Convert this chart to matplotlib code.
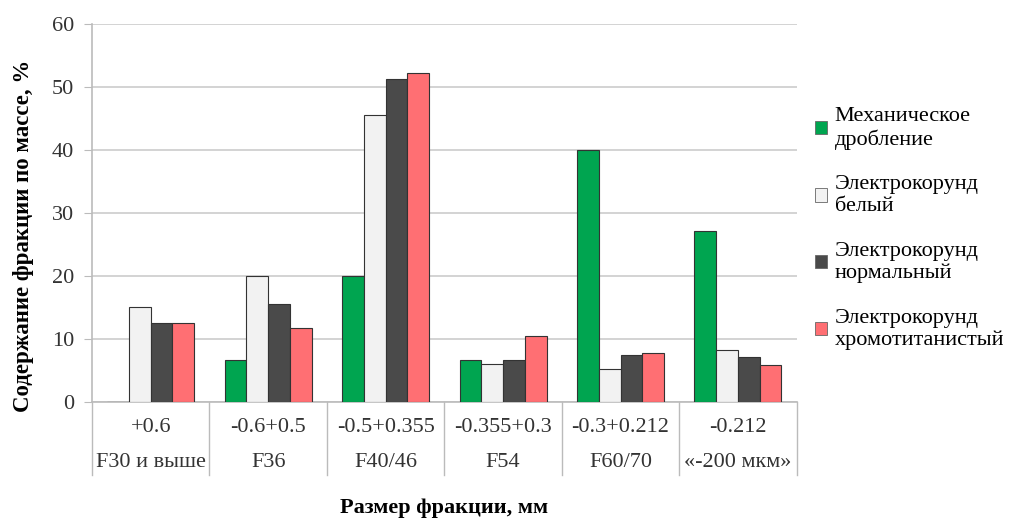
import numpy as np
import matplotlib.pyplot as plt
from matplotlib.patches import Patch

plt.rcParams['font.family'] = ['Liberation Serif', 'DejaVu Serif']

sizes = ["+0.6", "-0.6+0.5", "-0.5+0.355", "-0.355+0.3", "-0.3+0.212", "-0.212"]
grades = ["F30 и выше", "F36", "F40/46", "F54", "F60/70", "«-200 мкм»"]

series_names = ["Механическое\nдробление", "Электрокорунд\nбелый",
                "Электрокорунд\nнормальный", "Электрокорунд\nхромотитанистый"]
mech = [0, 6.7, 20.0, 6.7, 40.0, 27.1]
white = [15.1, 20.0, 45.5, 6.1, 5.2, 8.3]
normal = [12.5, 15.6, 51.3, 6.7, 7.4, 7.1]
chrome = [12.5, 11.7, 52.2, 10.5, 7.8, 5.9]
colors = ["#00A550", "#F2F2F2", "#4A4A4A", "#FF6F73"]

fs = 16

fig = plt.figure(figsize=(10.11, 5.23), dpi=100)
ax = fig.add_axes([0.091, 0.2314, 0.697, 0.723])

x = np.arange(len(sizes)) + 0.5
w = 0.185
for i, (vals, c) in enumerate(zip([mech, white, normal, chrome], colors)):
    ax.bar(x + (i - 1.5) * w, vals, w, color=c, edgecolor="#333333",
           linewidth=0.8, zorder=3)

ax.set_xlim(0, len(sizes))
ax.set_ylim(0, 60)
ax.set_yticks(range(0, 61, 10))
ax.yaxis.grid(True, color="#D0D0D0", linewidth=1.3, zorder=0)
ax.set_xticks([])
ax.tick_params(axis="y", labelsize=fs, length=6, color="#BBBBBB", pad=7,
               labelcolor="#333333")
for s in ["top", "right"]:
    ax.spines[s].set_visible(False)
for s in ["left", "bottom"]:
    ax.spines[s].set_color("#BBBBBB")
    ax.spines[s].set_linewidth(1.2)

# подписи категорий в две строки и разделители под осью
trans = ax.get_xaxis_transform()
for k in range(len(sizes) + 1):
    ax.plot([k, k], [0, -0.193], transform=trans, color="#BBBBBB",
            linewidth=1.0, clip_on=False)
for xi, s, g in zip(x, sizes, grades):
    ax.text(xi, -0.068, s, transform=trans, ha="center", va="center",
            fontsize=fs, color="#333333")
    ax.text(xi, -0.16, g, transform=trans, ha="center", va="center",
            fontsize=fs, color="#333333")

ax.set_ylabel("Содержание фракции по массе, %", fontsize=16.5,
              fontweight="bold")
ax.yaxis.set_label_coords(-0.082, 0.44)
ax.text(0.5, -0.28, "Размер фракции, мм", transform=ax.transAxes,
        ha="center", va="center", fontsize=fs, fontweight="bold")

handles = [Patch(facecolor=c, edgecolor="#666666", linewidth=0.6) for c in colors]
fig.legend(handles, series_names, loc="upper left",
           bbox_to_anchor=(0.797, 0.812), frameon=False, fontsize=fs,
           handlelength=0.55, handleheight=0.55, handletextpad=0.35,
           labelspacing=1.15, borderaxespad=0)

fig.savefig("out.png", dpi=100)
